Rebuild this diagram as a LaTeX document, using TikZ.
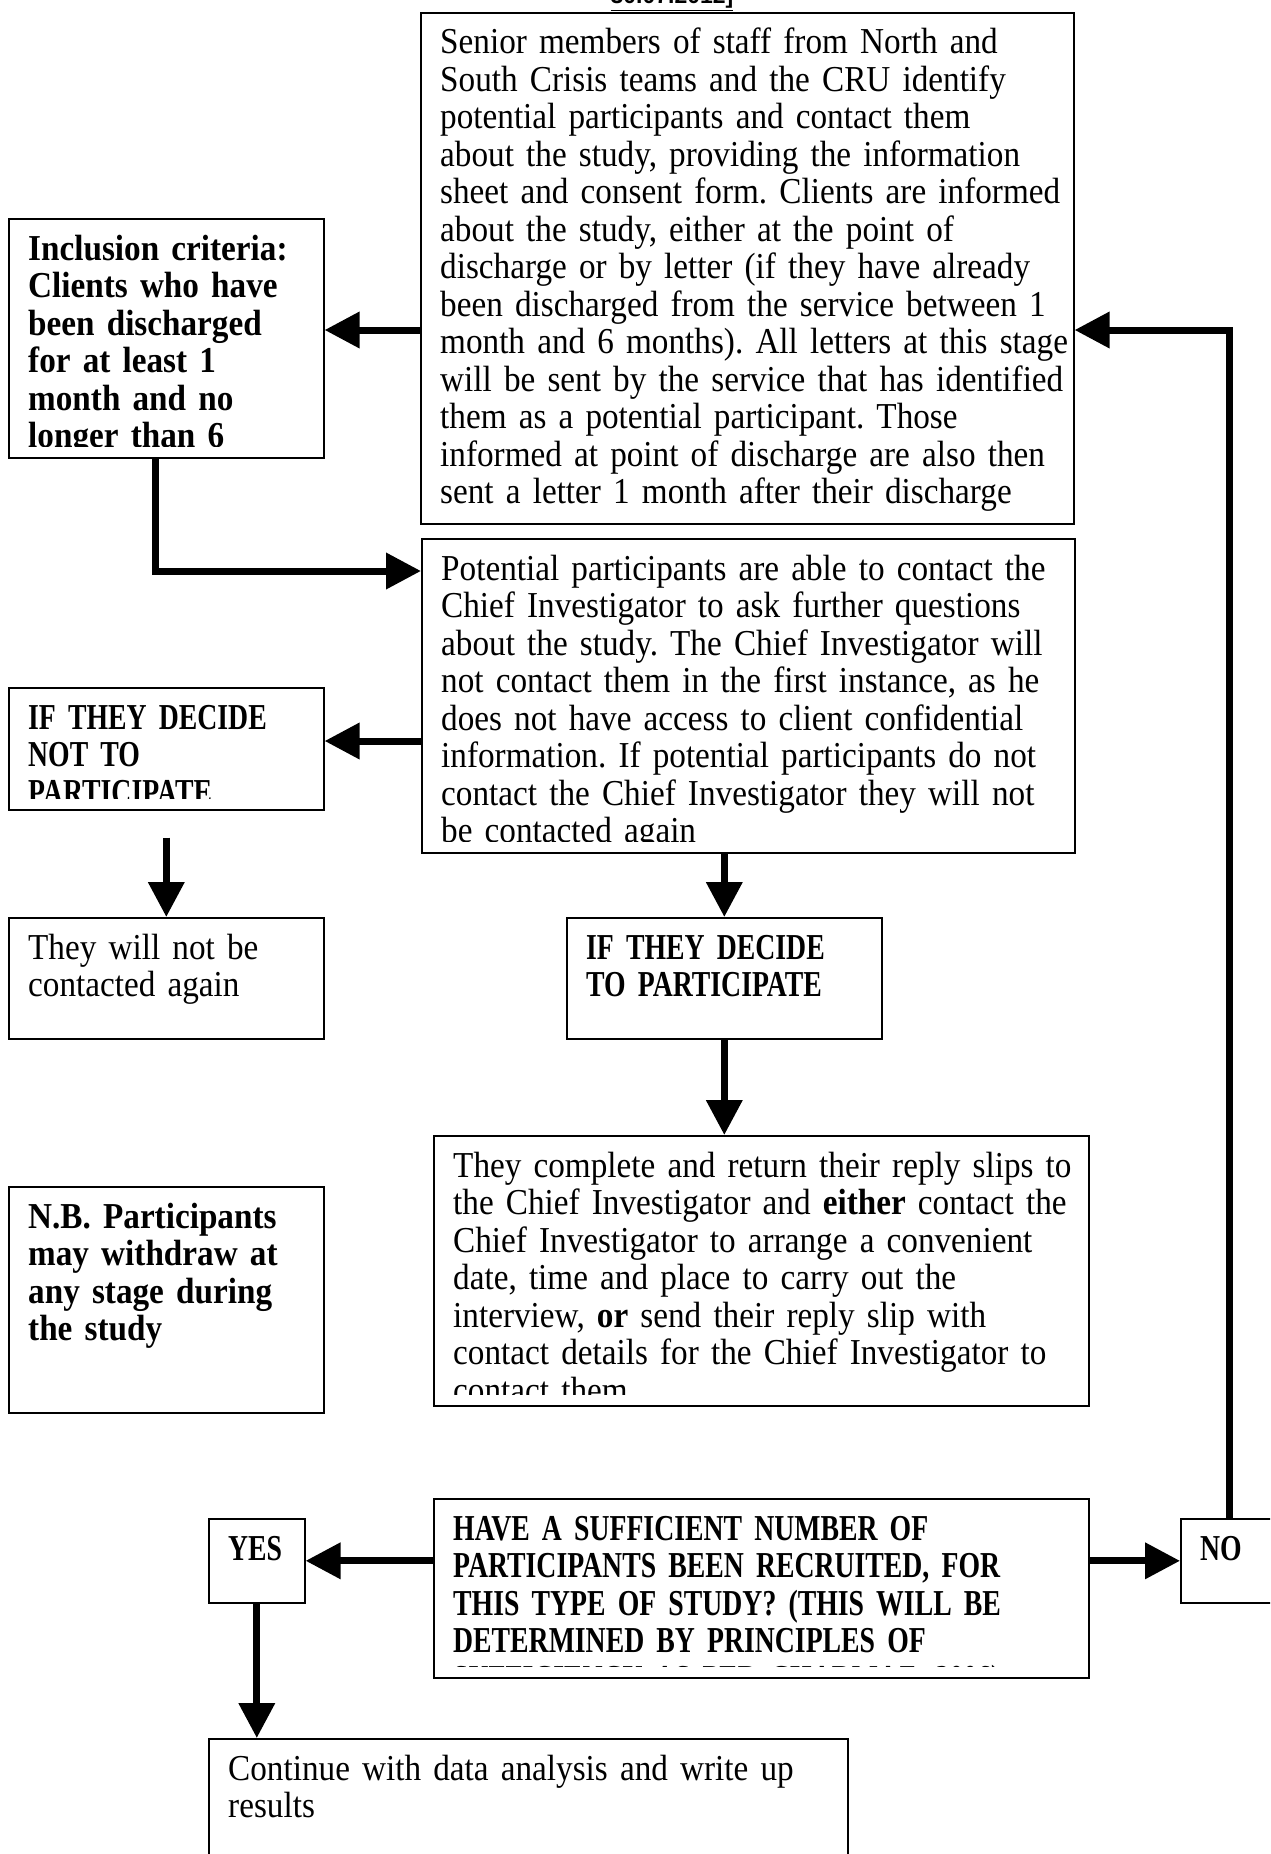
\documentclass[tikz,border=0pt]{standalone}
\usepackage{fontspec}
\setmainfont{Liberation Serif}[FakeStretch=0.91]
\newfontfamily\capsfont{Liberation Serif}[FakeStretch=0.76]
\newfontfamily\datefont{Liberation Sans}
\usetikzlibrary{arrows.meta}
\frenchspacing
\newcommand{\bodysize}{\fontsize{36.5}{37.5}\selectfont}
% box with its text clipped to the inside of the frame
\newcommand{\flowbox}[5]{%
	\node[box, minimum width=#3pt, minimum height=#4pt] (#1) at (#2) {};
	\begin{scope}
		\clip (#1.north west) rectangle ([yshift=12pt]#1.south east);
		\node[boxtext, text width=#3pt] at ([shift={(20pt,-42pt)}]#1.north west) {#5};
	\end{scope}}

\begin{document}
\begin{tikzpicture}[x=1pt,y=-1pt,
		box/.style={rectangle,draw=black,line width=1.6pt,anchor=north west,inner sep=0pt},
		boxtext/.style={anchor=base west,inner sep=0pt,align=left,font=\bodysize},
		flow/.style={line width=7pt,line join=miter,-{Triangle[length=35pt,width=35pt]}}]
		\clip (0,0) rectangle (1270,1854);
		\fill[white] (0,0) rectangle (1270,1854);
		
		\node[font=\datefont\bfseries\fontsize{23}{26}\selectfont,anchor=base,inner sep=0pt] (date) at (672,4) {\underline{30.07.2012]}};
		
		\flowbox{senior}{420,12}{653}{511}{Senior members of staff from North and\\
			South Crisis teams and the CRU identify\\
			potential participants and contact them\\
			about the study, providing the information\\
			sheet and consent form. Clients are informed\\
			about the study, either at the point of\\
			discharge or by letter (if they have already\\
			been discharged from the service between 1\\
			month and 6 months). All letters at this stage\\
			will be sent by the service that has identified\\
			them as a potential participant. Those\\
			informed at point of discharge are also then\\
			sent a letter 1 month after their discharge}
		\flowbox{incl}{8,218}{315}{239}{\bfseries Inclusion criteria:\\
			Clients who have\\
			been discharged\\
			for at least 1\\
			month and no\\
			longer than 6}
		\flowbox{contact}{421,538}{653}{314}{Potential participants are able to contact the\\
			Chief Investigator to ask further questions\\
			about the study. The Chief Investigator will\\
			not contact them in the first instance, as he\\
			does not have access to client confidential\\
			information. If potential participants do not\\
			contact the Chief Investigator they will not\\
			be contacted again}
		\flowbox{notpart}{8,687}{315}{122}{\capsfont\bfseries IF THEY DECIDE\\
			NOT TO\\
			PARTICIPATE}
		\flowbox{notcont}{8,917}{315}{121}{They will not be\\
			contacted again}
		\flowbox{part}{566,917}{315}{121}{\capsfont\bfseries IF THEY DECIDE\\
			TO PARTICIPATE}
		\flowbox{reply}{433,1135}{655}{270}{They complete and return their reply slips to\\
			the Chief Investigator and \textbf{either} contact the\\
			Chief Investigator to arrange a convenient\\
			date, time and place to carry out the\\
			interview, \textbf{or} send their reply slip with\\
			contact details for the Chief Investigator to\\
			contact them}
		\flowbox{nb}{8,1186}{315}{226}{\bfseries N.B. Participants\\
			may withdraw at\\
			any stage during\\
			the study}
		\flowbox{enough}{433,1498}{655}{179}{\capsfont\bfseries HAVE A SUFFICIENT NUMBER OF\\
			PARTICIPANTS BEEN RECRUITED, FOR\\
			THIS TYPE OF STUDY? (THIS WILL BE\\
			DETERMINED BY PRINCIPLES OF\\
			SUFFICIENCY AS PER CHARMAZ, 2006)}
		\flowbox{yes}{208,1518}{96}{84}{\capsfont\bfseries YES}
		\flowbox{no}{1180,1518}{98}{84}{\capsfont\bfseries NO}
		\flowbox{results}{208,1738}{639}{160}{Continue with data analysis and write up\\
			results}
		
		\draw[flow] (senior.west |- 0,330) -- (incl.east |- 0,330);
		\draw[flow] ([xshift=-11pt]incl.south) |- (contact.west |- 0,571);
		\draw[flow] (contact.west |- 0,741) -- (notpart.east |- 0,741);
		\draw[flow] ([yshift=-27pt]notpart.south) -- (notcont.north);
		\draw[flow] (part.north |- contact.south) -- (part.north);
		\draw[flow] (part.south) -- (part.south |- reply.north);
		\draw[flow] (enough.west |- yes.east) -- (yes.east);
		\draw[flow] (enough.east |- no.west) -- (no.west);
		\draw[flow] (no.north) |- (senior.east |- 0,330);
		\draw[flow] (yes.south) -- (yes.south |- results.north);
\end{tikzpicture}
\end{document}
